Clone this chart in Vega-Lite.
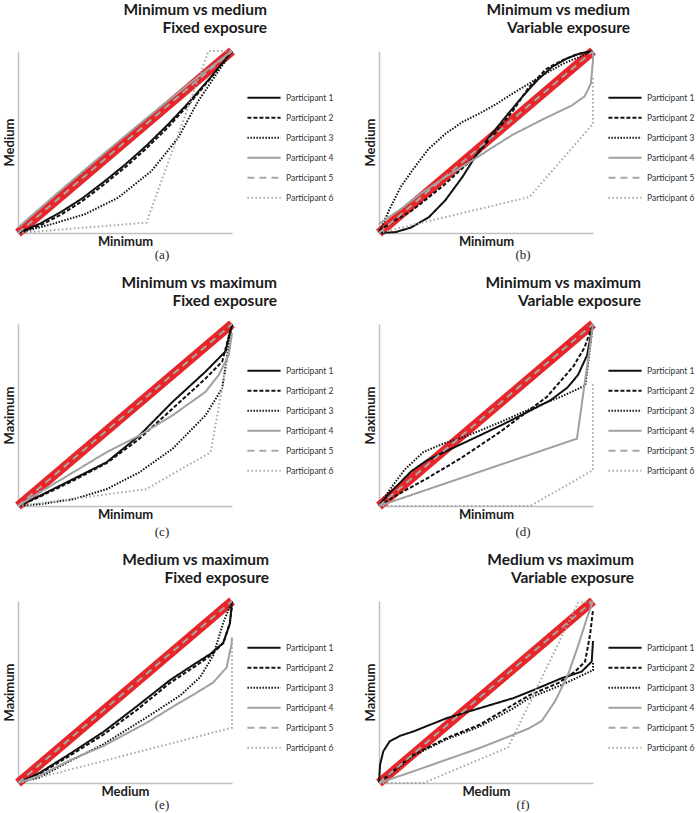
{
  "$schema": "https://vega.github.io/schema/vega-lite/v6.json",
  "padding": {"left": 0, "top": 2, "right": 0, "bottom": 0},
  "background": "white",
  "datasets": {
    "diag": [{"x": 0, "y": 0}, {"x": 1, "y": 1}],
    "a": [
      {"p": "Participant 1", "i": 0, "x": 0, "y": 0}, {"p": "Participant 1", "i": 1, "x": 0.1, "y": 0.05}, {"p": "Participant 1", "i": 2, "x": 0.2, "y": 0.115}, {"p": "Participant 1", "i": 3, "x": 0.3, "y": 0.19}, {"p": "Participant 1", "i": 4, "x": 0.4, "y": 0.28}, {"p": "Participant 1", "i": 5, "x": 0.5, "y": 0.375}, {"p": "Participant 1", "i": 6, "x": 0.6, "y": 0.48}, {"p": "Participant 1", "i": 7, "x": 0.7, "y": 0.595}, {"p": "Participant 1", "i": 8, "x": 0.8, "y": 0.72}, {"p": "Participant 1", "i": 9, "x": 0.9, "y": 0.855}, {"p": "Participant 1", "i": 10, "x": 1, "y": 1},
      {"p": "Participant 2", "i": 0, "x": 0, "y": 0}, {"p": "Participant 2", "i": 1, "x": 0.1, "y": 0.04}, {"p": "Participant 2", "i": 2, "x": 0.2, "y": 0.1}, {"p": "Participant 2", "i": 3, "x": 0.3, "y": 0.175}, {"p": "Participant 2", "i": 4, "x": 0.4, "y": 0.265}, {"p": "Participant 2", "i": 5, "x": 0.5, "y": 0.36}, {"p": "Participant 2", "i": 6, "x": 0.6, "y": 0.465}, {"p": "Participant 2", "i": 7, "x": 0.7, "y": 0.58}, {"p": "Participant 2", "i": 8, "x": 0.8, "y": 0.71}, {"p": "Participant 2", "i": 9, "x": 0.9, "y": 0.85}, {"p": "Participant 2", "i": 10, "x": 1, "y": 1},
      {"p": "Participant 3", "i": 0, "x": 0, "y": 0}, {"p": "Participant 3", "i": 1, "x": 0.156, "y": 0.048}, {"p": "Participant 3", "i": 2, "x": 0.312, "y": 0.103}, {"p": "Participant 3", "i": 3, "x": 0.468, "y": 0.194}, {"p": "Participant 3", "i": 4, "x": 0.624, "y": 0.341}, {"p": "Participant 3", "i": 5, "x": 0.749, "y": 0.524}, {"p": "Participant 3", "i": 6, "x": 0.842, "y": 0.725}, {"p": "Participant 3", "i": 7, "x": 0.92, "y": 0.86}, {"p": "Participant 3", "i": 8, "x": 1, "y": 1},
      {"p": "Participant 4", "i": 0, "x": 0, "y": 0.03}, {"p": "Participant 4", "i": 1, "x": 0.2, "y": 0.235}, {"p": "Participant 4", "i": 2, "x": 0.4, "y": 0.435}, {"p": "Participant 4", "i": 3, "x": 0.6, "y": 0.63}, {"p": "Participant 4", "i": 4, "x": 0.8, "y": 0.82}, {"p": "Participant 4", "i": 5, "x": 1, "y": 1},
      {"p": "Participant 5", "i": 0, "x": 0, "y": 0}, {"p": "Participant 5", "i": 1, "x": 1, "y": 1},
      {"p": "Participant 6", "i": 0, "x": 0, "y": 0}, {"p": "Participant 6", "i": 1, "x": 0.6, "y": 0.057}, {"p": "Participant 6", "i": 2, "x": 0.89, "y": 1}, {"p": "Participant 6", "i": 3, "x": 1, "y": 1}
    ],
    "b": [
      {"p": "Participant 1", "i": 0, "x": 0, "y": 0}, {"p": "Participant 1", "i": 1, "x": 0.078, "y": 0.005}, {"p": "Participant 1", "i": 2, "x": 0.15, "y": 0.03}, {"p": "Participant 1", "i": 3, "x": 0.234, "y": 0.088}, {"p": "Participant 1", "i": 4, "x": 0.31, "y": 0.18}, {"p": "Participant 1", "i": 5, "x": 0.39, "y": 0.308}, {"p": "Participant 1", "i": 6, "x": 0.45, "y": 0.42}, {"p": "Participant 1", "i": 7, "x": 0.516, "y": 0.528}, {"p": "Participant 1", "i": 8, "x": 0.6, "y": 0.65}, {"p": "Participant 1", "i": 9, "x": 0.67, "y": 0.749}, {"p": "Participant 1", "i": 10, "x": 0.74, "y": 0.84}, {"p": "Participant 1", "i": 11, "x": 0.81, "y": 0.914}, {"p": "Participant 1", "i": 12, "x": 0.88, "y": 0.96}, {"p": "Participant 1", "i": 13, "x": 0.94, "y": 0.987}, {"p": "Participant 1", "i": 14, "x": 1, "y": 1},
      {"p": "Participant 2", "i": 0, "x": 0, "y": 0.015}, {"p": "Participant 2", "i": 1, "x": 0.156, "y": 0.125}, {"p": "Participant 2", "i": 2, "x": 0.3, "y": 0.26}, {"p": "Participant 2", "i": 3, "x": 0.45, "y": 0.42}, {"p": "Participant 2", "i": 4, "x": 0.55, "y": 0.56}, {"p": "Participant 2", "i": 5, "x": 0.625, "y": 0.67}, {"p": "Participant 2", "i": 6, "x": 0.7, "y": 0.8}, {"p": "Participant 2", "i": 7, "x": 0.78, "y": 0.9}, {"p": "Participant 2", "i": 8, "x": 0.85, "y": 0.945}, {"p": "Participant 2", "i": 9, "x": 0.92, "y": 0.98}, {"p": "Participant 2", "i": 10, "x": 1, "y": 1},
      {"p": "Participant 3", "i": 0, "x": 0, "y": 0}, {"p": "Participant 3", "i": 1, "x": 0.047, "y": 0.125}, {"p": "Participant 3", "i": 2, "x": 0.1, "y": 0.25}, {"p": "Participant 3", "i": 3, "x": 0.156, "y": 0.345}, {"p": "Participant 3", "i": 4, "x": 0.23, "y": 0.46}, {"p": "Participant 3", "i": 5, "x": 0.3125, "y": 0.547}, {"p": "Participant 3", "i": 6, "x": 0.39, "y": 0.61}, {"p": "Participant 3", "i": 7, "x": 0.47, "y": 0.657}, {"p": "Participant 3", "i": 8, "x": 0.55, "y": 0.71}, {"p": "Participant 3", "i": 9, "x": 0.625, "y": 0.767}, {"p": "Participant 3", "i": 10, "x": 0.7, "y": 0.82}, {"p": "Participant 3", "i": 11, "x": 0.78, "y": 0.877}, {"p": "Participant 3", "i": 12, "x": 0.86, "y": 0.93}, {"p": "Participant 3", "i": 13, "x": 0.94, "y": 0.969}, {"p": "Participant 3", "i": 14, "x": 1, "y": 1},
      {"p": "Participant 4", "i": 0, "x": 0, "y": 0.05}, {"p": "Participant 4", "i": 1, "x": 0.1, "y": 0.13}, {"p": "Participant 4", "i": 2, "x": 0.2, "y": 0.22}, {"p": "Participant 4", "i": 3, "x": 0.3, "y": 0.3}, {"p": "Participant 4", "i": 4, "x": 0.4375, "y": 0.4}, {"p": "Participant 4", "i": 5, "x": 0.53, "y": 0.47}, {"p": "Participant 4", "i": 6, "x": 0.625, "y": 0.54}, {"p": "Participant 4", "i": 7, "x": 0.775, "y": 0.63}, {"p": "Participant 4", "i": 8, "x": 0.9, "y": 0.7}, {"p": "Participant 4", "i": 9, "x": 0.96, "y": 0.75}, {"p": "Participant 4", "i": 10, "x": 0.99, "y": 0.82}, {"p": "Participant 4", "i": 11, "x": 1, "y": 0.95}, {"p": "Participant 4", "i": 12, "x": 1, "y": 1},
      {"p": "Participant 5", "i": 0, "x": 0, "y": 0}, {"p": "Participant 5", "i": 1, "x": 1, "y": 1},
      {"p": "Participant 6", "i": 0, "x": 0, "y": 0}, {"p": "Participant 6", "i": 1, "x": 0.703, "y": 0.198}, {"p": "Participant 6", "i": 2, "x": 1, "y": 0.6}, {"p": "Participant 6", "i": 3, "x": 1, "y": 0.86}
    ],
    "c": [
      {"p": "Participant 1", "i": 0, "x": 0, "y": 0}, {"p": "Participant 1", "i": 1, "x": 0.1, "y": 0.055}, {"p": "Participant 1", "i": 2, "x": 0.258, "y": 0.148}, {"p": "Participant 1", "i": 3, "x": 0.413, "y": 0.24}, {"p": "Participant 1", "i": 4, "x": 0.567, "y": 0.387}, {"p": "Participant 1", "i": 5, "x": 0.722, "y": 0.572}, {"p": "Participant 1", "i": 6, "x": 0.876, "y": 0.738}, {"p": "Participant 1", "i": 7, "x": 0.97, "y": 0.85}, {"p": "Participant 1", "i": 8, "x": 1, "y": 1},
      {"p": "Participant 2", "i": 0, "x": 0, "y": 0}, {"p": "Participant 2", "i": 1, "x": 0.1, "y": 0.05}, {"p": "Participant 2", "i": 2, "x": 0.258, "y": 0.14}, {"p": "Participant 2", "i": 3, "x": 0.413, "y": 0.235}, {"p": "Participant 2", "i": 4, "x": 0.567, "y": 0.369}, {"p": "Participant 2", "i": 5, "x": 0.722, "y": 0.535}, {"p": "Participant 2", "i": 6, "x": 0.876, "y": 0.7}, {"p": "Participant 2", "i": 7, "x": 0.954, "y": 0.793}, {"p": "Participant 2", "i": 8, "x": 1, "y": 1},
      {"p": "Participant 3", "i": 0, "x": 0, "y": 0}, {"p": "Participant 3", "i": 1, "x": 0.1, "y": 0.01}, {"p": "Participant 3", "i": 2, "x": 0.258, "y": 0.037}, {"p": "Participant 3", "i": 3, "x": 0.413, "y": 0.092}, {"p": "Participant 3", "i": 4, "x": 0.567, "y": 0.185}, {"p": "Participant 3", "i": 5, "x": 0.722, "y": 0.314}, {"p": "Participant 3", "i": 6, "x": 0.876, "y": 0.498}, {"p": "Participant 3", "i": 7, "x": 0.954, "y": 0.646}, {"p": "Participant 3", "i": 8, "x": 1, "y": 1},
      {"p": "Participant 4", "i": 0, "x": 0, "y": 0}, {"p": "Participant 4", "i": 1, "x": 0.1, "y": 0.074}, {"p": "Participant 4", "i": 2, "x": 0.258, "y": 0.185}, {"p": "Participant 4", "i": 3, "x": 0.413, "y": 0.295}, {"p": "Participant 4", "i": 4, "x": 0.567, "y": 0.387}, {"p": "Participant 4", "i": 5, "x": 0.722, "y": 0.498}, {"p": "Participant 4", "i": 6, "x": 0.876, "y": 0.627}, {"p": "Participant 4", "i": 7, "x": 0.938, "y": 0.72}, {"p": "Participant 4", "i": 8, "x": 0.985, "y": 0.83}, {"p": "Participant 4", "i": 9, "x": 1, "y": 0.95},
      {"p": "Participant 5", "i": 0, "x": 0, "y": 0}, {"p": "Participant 5", "i": 1, "x": 1, "y": 1},
      {"p": "Participant 6", "i": 0, "x": 0, "y": 0}, {"p": "Participant 6", "i": 1, "x": 0.598, "y": 0.092}, {"p": "Participant 6", "i": 2, "x": 0.9, "y": 0.295}, {"p": "Participant 6", "i": 3, "x": 1, "y": 0.95}
    ],
    "d": [
      {"p": "Participant 1", "i": 0, "x": 0, "y": 0}, {"p": "Participant 1", "i": 1, "x": 0.04, "y": 0.06}, {"p": "Participant 1", "i": 2, "x": 0.1, "y": 0.13}, {"p": "Participant 1", "i": 3, "x": 0.15, "y": 0.19}, {"p": "Participant 1", "i": 4, "x": 0.223, "y": 0.25}, {"p": "Participant 1", "i": 5, "x": 0.348, "y": 0.32}, {"p": "Participant 1", "i": 6, "x": 0.457, "y": 0.38}, {"p": "Participant 1", "i": 7, "x": 0.582, "y": 0.45}, {"p": "Participant 1", "i": 8, "x": 0.7, "y": 0.52}, {"p": "Participant 1", "i": 9, "x": 0.8, "y": 0.58}, {"p": "Participant 1", "i": 10, "x": 0.88, "y": 0.65}, {"p": "Participant 1", "i": 11, "x": 0.93, "y": 0.72}, {"p": "Participant 1", "i": 12, "x": 0.972, "y": 0.827}, {"p": "Participant 1", "i": 13, "x": 1, "y": 1},
      {"p": "Participant 2", "i": 0, "x": 0, "y": 0}, {"p": "Participant 2", "i": 1, "x": 0.083, "y": 0.06}, {"p": "Participant 2", "i": 2, "x": 0.223, "y": 0.151}, {"p": "Participant 2", "i": 3, "x": 0.379, "y": 0.26}, {"p": "Participant 2", "i": 4, "x": 0.566, "y": 0.407}, {"p": "Participant 2", "i": 5, "x": 0.785, "y": 0.6}, {"p": "Participant 2", "i": 6, "x": 0.91, "y": 0.77}, {"p": "Participant 2", "i": 7, "x": 0.96, "y": 0.87}, {"p": "Participant 2", "i": 8, "x": 1, "y": 1},
      {"p": "Participant 3", "i": 0, "x": 0, "y": 0}, {"p": "Participant 3", "i": 1, "x": 0.05, "y": 0.09}, {"p": "Participant 3", "i": 2, "x": 0.12, "y": 0.2}, {"p": "Participant 3", "i": 3, "x": 0.208, "y": 0.297}, {"p": "Participant 3", "i": 4, "x": 0.301, "y": 0.343}, {"p": "Participant 3", "i": 5, "x": 0.4, "y": 0.38}, {"p": "Participant 3", "i": 6, "x": 0.566, "y": 0.46}, {"p": "Participant 3", "i": 7, "x": 0.7, "y": 0.53}, {"p": "Participant 3", "i": 8, "x": 0.85, "y": 0.6}, {"p": "Participant 3", "i": 9, "x": 0.964, "y": 0.662}, {"p": "Participant 3", "i": 10, "x": 1, "y": 1},
      {"p": "Participant 4", "i": 0, "x": 0, "y": 0}, {"p": "Participant 4", "i": 1, "x": 0.925, "y": 0.37}, {"p": "Participant 4", "i": 2, "x": 1, "y": 1},
      {"p": "Participant 5", "i": 0, "x": 0, "y": 0}, {"p": "Participant 5", "i": 1, "x": 1, "y": 1},
      {"p": "Participant 6", "i": 0, "x": 0, "y": 0}, {"p": "Participant 6", "i": 1, "x": 0.707, "y": 0}, {"p": "Participant 6", "i": 2, "x": 1, "y": 0.197}, {"p": "Participant 6", "i": 3, "x": 1, "y": 0.68}
    ],
    "e": [
      {"p": "Participant 1", "i": 0, "x": 0, "y": 0}, {"p": "Participant 1", "i": 1, "x": 0.1, "y": 0.055}, {"p": "Participant 1", "i": 2, "x": 0.242, "y": 0.16}, {"p": "Participant 1", "i": 3, "x": 0.398, "y": 0.28}, {"p": "Participant 1", "i": 4, "x": 0.554, "y": 0.42}, {"p": "Participant 1", "i": 5, "x": 0.71, "y": 0.565}, {"p": "Participant 1", "i": 6, "x": 0.82, "y": 0.65}, {"p": "Participant 1", "i": 7, "x": 0.9, "y": 0.71}, {"p": "Participant 1", "i": 8, "x": 0.959, "y": 0.77}, {"p": "Participant 1", "i": 9, "x": 0.99, "y": 0.875}, {"p": "Participant 1", "i": 10, "x": 1, "y": 1},
      {"p": "Participant 2", "i": 0, "x": 0, "y": 0}, {"p": "Participant 2", "i": 1, "x": 0.1, "y": 0.05}, {"p": "Participant 2", "i": 2, "x": 0.242, "y": 0.15}, {"p": "Participant 2", "i": 3, "x": 0.398, "y": 0.265}, {"p": "Participant 2", "i": 4, "x": 0.554, "y": 0.4}, {"p": "Participant 2", "i": 5, "x": 0.71, "y": 0.55}, {"p": "Participant 2", "i": 6, "x": 0.82, "y": 0.635}, {"p": "Participant 2", "i": 7, "x": 0.9, "y": 0.7}, {"p": "Participant 2", "i": 8, "x": 0.96, "y": 0.77}, {"p": "Participant 2", "i": 9, "x": 0.99, "y": 0.88}, {"p": "Participant 2", "i": 10, "x": 1, "y": 0.97},
      {"p": "Participant 3", "i": 0, "x": 0, "y": 0}, {"p": "Participant 3", "i": 1, "x": 0.1, "y": 0.03}, {"p": "Participant 3", "i": 2, "x": 0.242, "y": 0.12}, {"p": "Participant 3", "i": 3, "x": 0.398, "y": 0.212}, {"p": "Participant 3", "i": 4, "x": 0.6, "y": 0.36}, {"p": "Participant 3", "i": 5, "x": 0.757, "y": 0.48}, {"p": "Participant 3", "i": 6, "x": 0.85, "y": 0.58}, {"p": "Participant 3", "i": 7, "x": 0.912, "y": 0.7}, {"p": "Participant 3", "i": 8, "x": 0.959, "y": 0.88}, {"p": "Participant 3", "i": 9, "x": 1, "y": 1},
      {"p": "Participant 4", "i": 0, "x": 0, "y": 0}, {"p": "Participant 4", "i": 1, "x": 0.1, "y": 0.04}, {"p": "Participant 4", "i": 2, "x": 0.242, "y": 0.125}, {"p": "Participant 4", "i": 3, "x": 0.398, "y": 0.203}, {"p": "Participant 4", "i": 4, "x": 0.6, "y": 0.33}, {"p": "Participant 4", "i": 5, "x": 0.725, "y": 0.42}, {"p": "Participant 4", "i": 6, "x": 0.819, "y": 0.485}, {"p": "Participant 4", "i": 7, "x": 0.912, "y": 0.552}, {"p": "Participant 4", "i": 8, "x": 0.975, "y": 0.635}, {"p": "Participant 4", "i": 9, "x": 0.998, "y": 0.764}, {"p": "Participant 4", "i": 10, "x": 1, "y": 0.8},
      {"p": "Participant 5", "i": 0, "x": 0, "y": 0}, {"p": "Participant 5", "i": 1, "x": 1, "y": 1},
      {"p": "Participant 6", "i": 0, "x": 0, "y": 0}, {"p": "Participant 6", "i": 1, "x": 1, "y": 0.304}, {"p": "Participant 6", "i": 2, "x": 1, "y": 0.78}
    ],
    "f": [
      {"p": "Participant 1", "i": 0, "x": 0, "y": 0}, {"p": "Participant 1", "i": 1, "x": 0.005, "y": 0.1}, {"p": "Participant 1", "i": 2, "x": 0.02, "y": 0.174}, {"p": "Participant 1", "i": 3, "x": 0.05, "y": 0.229}, {"p": "Participant 1", "i": 4, "x": 0.1, "y": 0.26}, {"p": "Participant 1", "i": 5, "x": 0.16, "y": 0.283}, {"p": "Participant 1", "i": 6, "x": 0.316, "y": 0.356}, {"p": "Participant 1", "i": 7, "x": 0.47, "y": 0.411}, {"p": "Participant 1", "i": 8, "x": 0.627, "y": 0.466}, {"p": "Participant 1", "i": 9, "x": 0.7, "y": 0.5}, {"p": "Participant 1", "i": 10, "x": 0.854, "y": 0.576}, {"p": "Participant 1", "i": 11, "x": 0.947, "y": 0.612}, {"p": "Participant 1", "i": 12, "x": 0.994, "y": 0.667}, {"p": "Participant 1", "i": 13, "x": 1, "y": 0.78},
      {"p": "Participant 2", "i": 0, "x": 0, "y": 0}, {"p": "Participant 2", "i": 1, "x": 0.05, "y": 0.05}, {"p": "Participant 2", "i": 2, "x": 0.16, "y": 0.155}, {"p": "Participant 2", "i": 3, "x": 0.316, "y": 0.247}, {"p": "Participant 2", "i": 4, "x": 0.47, "y": 0.32}, {"p": "Participant 2", "i": 5, "x": 0.627, "y": 0.43}, {"p": "Participant 2", "i": 6, "x": 0.699, "y": 0.48}, {"p": "Participant 2", "i": 7, "x": 0.839, "y": 0.55}, {"p": "Participant 2", "i": 8, "x": 0.916, "y": 0.612}, {"p": "Participant 2", "i": 9, "x": 0.963, "y": 0.667}, {"p": "Participant 2", "i": 10, "x": 0.986, "y": 0.813}, {"p": "Participant 2", "i": 11, "x": 1, "y": 0.95},
      {"p": "Participant 3", "i": 0, "x": 0, "y": 0}, {"p": "Participant 3", "i": 1, "x": 0.05, "y": 0.045}, {"p": "Participant 3", "i": 2, "x": 0.16, "y": 0.15}, {"p": "Participant 3", "i": 3, "x": 0.316, "y": 0.24}, {"p": "Participant 3", "i": 4, "x": 0.47, "y": 0.31}, {"p": "Participant 3", "i": 5, "x": 0.627, "y": 0.41}, {"p": "Participant 3", "i": 6, "x": 0.699, "y": 0.465}, {"p": "Participant 3", "i": 7, "x": 0.854, "y": 0.539}, {"p": "Participant 3", "i": 8, "x": 1, "y": 0.62}, {"p": "Participant 3", "i": 9, "x": 1, "y": 0.66},
      {"p": "Participant 4", "i": 0, "x": 0, "y": 0}, {"p": "Participant 4", "i": 1, "x": 0.16, "y": 0.064}, {"p": "Participant 4", "i": 2, "x": 0.47, "y": 0.192}, {"p": "Participant 4", "i": 3, "x": 0.627, "y": 0.265}, {"p": "Participant 4", "i": 4, "x": 0.7, "y": 0.3}, {"p": "Participant 4", "i": 5, "x": 0.76, "y": 0.34}, {"p": "Participant 4", "i": 6, "x": 0.823, "y": 0.45}, {"p": "Participant 4", "i": 7, "x": 0.885, "y": 0.6}, {"p": "Participant 4", "i": 8, "x": 0.932, "y": 0.76}, {"p": "Participant 4", "i": 9, "x": 0.97, "y": 0.9}, {"p": "Participant 4", "i": 10, "x": 1, "y": 1},
      {"p": "Participant 5", "i": 0, "x": 0, "y": 0}, {"p": "Participant 5", "i": 1, "x": 1, "y": 1},
      {"p": "Participant 6", "i": 0, "x": 0, "y": 0}, {"p": "Participant 6", "i": 1, "x": 0.207, "y": 0}, {"p": "Participant 6", "i": 2, "x": 0.603, "y": 0.195}, {"p": "Participant 6", "i": 3, "x": 0.93, "y": 0.99}, {"p": "Participant 6", "i": 4, "x": 1, "y": 1}
    ]
  },
  "resolve": {"scale": {"color": "independent", "strokeDash": "independent"}, "legend": {"color": "independent", "strokeDash": "independent"}},
  "spacing": 13,
  "vconcat": [
    {"spacing": 27, "resolve": {"scale": {"color": "independent", "strokeDash": "independent"}, "legend": {"color": "independent", "strokeDash": "independent"}}, "hconcat": [
      {"title": {"text": "(a)", "orient": "bottom", "anchor": "middle", "frame": "bounds", "align": "center", "font": "Liberation Serif", "fontSize": 13, "fontWeight": "normal", "color": "#222222", "dx": -5, "offset": -2}, "vconcat": [{"width": 214, "height": 182, "title": {"text": ["Minimum vs medium", "Fixed exposure"], "dx": 35},
        "layer": [
          {"data": {"name": "diag"}, "mark": {"type": "line", "color": "#e8262a", "strokeWidth": 9}, "encoding": {"x": {"field": "x", "type": "quantitative", "scale": {"domain": [0, 1]}, "axis": {"title": "Minimum"}}, "y": {"field": "y", "type": "quantitative", "scale": {"domain": [0, 1]}, "axis": {"title": "Medium"}}}},
          {"data": {"name": "a"}, "mark": {"type": "line", "strokeWidth": 2}, "encoding": {"x": {"field": "x", "type": "quantitative"}, "y": {"field": "y", "type": "quantitative"}, "order": {"field": "i"}, "color": {"field": "p", "type": "nominal", "legend": {"title": null}, "scale": {"domain": ["Participant 1", "Participant 2", "Participant 3", "Participant 4", "Participant 5", "Participant 6"], "range": ["#111111", "#111111", "#111111", "#a0a0a0", "#a6a6a6", "#a6a6a6"]}}, "strokeDash": {"field": "p", "type": "nominal", "legend": {"title": null}, "scale": {"domain": ["Participant 1", "Participant 2", "Participant 3", "Participant 4", "Participant 5", "Participant 6"], "range": [[1, 0], [4, 2], [1.5, 1.5], [1, 0], [7, 5], [1.5, 2.5]]}}}}
        ]}]},
      {"title": {"text": "(b)", "orient": "bottom", "anchor": "middle", "frame": "bounds", "align": "center", "font": "Liberation Serif", "fontSize": 13, "fontWeight": "normal", "color": "#222222", "dx": -5, "offset": -2}, "vconcat": [{"width": 214, "height": 182, "title": {"text": ["Minimum vs medium", "Variable exposure"], "dx": 37},
        "layer": [
          {"data": {"name": "diag"}, "mark": {"type": "line", "color": "#e8262a", "strokeWidth": 9}, "encoding": {"x": {"field": "x", "type": "quantitative", "scale": {"domain": [0, 1]}, "axis": {"title": "Minimum"}}, "y": {"field": "y", "type": "quantitative", "scale": {"domain": [0, 1]}, "axis": {"title": "Medium"}}}},
          {"data": {"name": "b"}, "mark": {"type": "line", "strokeWidth": 2}, "encoding": {"x": {"field": "x", "type": "quantitative"}, "y": {"field": "y", "type": "quantitative"}, "order": {"field": "i"}, "color": {"field": "p", "type": "nominal", "legend": {"title": null}, "scale": {"domain": ["Participant 1", "Participant 2", "Participant 3", "Participant 4", "Participant 5", "Participant 6"], "range": ["#111111", "#111111", "#111111", "#a0a0a0", "#a6a6a6", "#a6a6a6"]}}, "strokeDash": {"field": "p", "type": "nominal", "legend": {"title": null}, "scale": {"domain": ["Participant 1", "Participant 2", "Participant 3", "Participant 4", "Participant 5", "Participant 6"], "range": [[1, 0], [4, 2], [1.5, 1.5], [1, 0], [7, 5], [1.5, 2.5]]}}}}
        ]}]}
    ]},
    {"spacing": 27, "resolve": {"scale": {"color": "independent", "strokeDash": "independent"}, "legend": {"color": "independent", "strokeDash": "independent"}}, "hconcat": [
      {"title": {"text": "(c)", "orient": "bottom", "anchor": "middle", "frame": "bounds", "align": "center", "font": "Liberation Serif", "fontSize": 13, "fontWeight": "normal", "color": "#222222", "dx": -5, "offset": 2}, "vconcat": [{"width": 214, "height": 182, "title": {"text": ["Minimum vs maximum", "Fixed exposure"], "dx": 45},
        "layer": [
          {"data": {"name": "diag"}, "mark": {"type": "line", "color": "#e8262a", "strokeWidth": 9}, "encoding": {"x": {"field": "x", "type": "quantitative", "scale": {"domain": [0, 1]}, "axis": {"title": "Minimum"}}, "y": {"field": "y", "type": "quantitative", "scale": {"domain": [0, 1]}, "axis": {"title": "Maximum"}}}},
          {"data": {"name": "c"}, "mark": {"type": "line", "strokeWidth": 2}, "encoding": {"x": {"field": "x", "type": "quantitative"}, "y": {"field": "y", "type": "quantitative"}, "order": {"field": "i"}, "color": {"field": "p", "type": "nominal", "legend": {"title": null}, "scale": {"domain": ["Participant 1", "Participant 2", "Participant 3", "Participant 4", "Participant 5", "Participant 6"], "range": ["#111111", "#111111", "#111111", "#a0a0a0", "#a6a6a6", "#a6a6a6"]}}, "strokeDash": {"field": "p", "type": "nominal", "legend": {"title": null}, "scale": {"domain": ["Participant 1", "Participant 2", "Participant 3", "Participant 4", "Participant 5", "Participant 6"], "range": [[1, 0], [4, 2], [1.5, 1.5], [1, 0], [7, 5], [1.5, 2.5]]}}}}
        ]}]},
      {"title": {"text": "(d)", "orient": "bottom", "anchor": "middle", "frame": "bounds", "align": "center", "font": "Liberation Serif", "fontSize": 13, "fontWeight": "normal", "color": "#222222", "dx": -5, "offset": 2}, "vconcat": [{"width": 214, "height": 182, "title": {"text": ["Minimum vs maximum", "Variable exposure"], "dx": 48},
        "layer": [
          {"data": {"name": "diag"}, "mark": {"type": "line", "color": "#e8262a", "strokeWidth": 9}, "encoding": {"x": {"field": "x", "type": "quantitative", "scale": {"domain": [0, 1]}, "axis": {"title": "Minimum"}}, "y": {"field": "y", "type": "quantitative", "scale": {"domain": [0, 1]}, "axis": {"title": "Maximum"}}}},
          {"data": {"name": "d"}, "mark": {"type": "line", "strokeWidth": 2}, "encoding": {"x": {"field": "x", "type": "quantitative"}, "y": {"field": "y", "type": "quantitative"}, "order": {"field": "i"}, "color": {"field": "p", "type": "nominal", "legend": {"title": null}, "scale": {"domain": ["Participant 1", "Participant 2", "Participant 3", "Participant 4", "Participant 5", "Participant 6"], "range": ["#111111", "#111111", "#111111", "#a0a0a0", "#a6a6a6", "#a6a6a6"]}}, "strokeDash": {"field": "p", "type": "nominal", "legend": {"title": null}, "scale": {"domain": ["Participant 1", "Participant 2", "Participant 3", "Participant 4", "Participant 5", "Participant 6"], "range": [[1, 0], [4, 2], [1.5, 1.5], [1, 0], [7, 5], [1.5, 2.5]]}}}}
        ]}]}
    ]},
    {"spacing": 27, "resolve": {"scale": {"color": "independent", "strokeDash": "independent"}, "legend": {"color": "independent", "strokeDash": "independent"}}, "hconcat": [
      {"title": {"text": "(e)", "orient": "bottom", "anchor": "middle", "frame": "bounds", "align": "center", "font": "Liberation Serif", "fontSize": 13, "fontWeight": "normal", "color": "#222222", "dx": -5, "offset": -2}, "vconcat": [{"width": 214, "height": 182, "title": {"text": ["Medium vs maximum", "Fixed exposure"], "dx": 37},
        "layer": [
          {"data": {"name": "diag"}, "mark": {"type": "line", "color": "#e8262a", "strokeWidth": 9}, "encoding": {"x": {"field": "x", "type": "quantitative", "scale": {"domain": [0, 1]}, "axis": {"title": "Medium"}}, "y": {"field": "y", "type": "quantitative", "scale": {"domain": [0, 1]}, "axis": {"title": "Maximum"}}}},
          {"data": {"name": "e"}, "mark": {"type": "line", "strokeWidth": 2}, "encoding": {"x": {"field": "x", "type": "quantitative"}, "y": {"field": "y", "type": "quantitative"}, "order": {"field": "i"}, "color": {"field": "p", "type": "nominal", "legend": {"title": null}, "scale": {"domain": ["Participant 1", "Participant 2", "Participant 3", "Participant 4", "Participant 5", "Participant 6"], "range": ["#111111", "#111111", "#111111", "#a0a0a0", "#a6a6a6", "#a6a6a6"]}}, "strokeDash": {"field": "p", "type": "nominal", "legend": {"title": null}, "scale": {"domain": ["Participant 1", "Participant 2", "Participant 3", "Participant 4", "Participant 5", "Participant 6"], "range": [[1, 0], [4, 2], [1.5, 1.5], [1, 0], [7, 5], [1.5, 2.5]]}}}}
        ]}]},
      {"title": {"text": "(f)", "orient": "bottom", "anchor": "middle", "frame": "bounds", "align": "center", "font": "Liberation Serif", "fontSize": 13, "fontWeight": "normal", "color": "#222222", "dx": -5, "offset": -2}, "vconcat": [{"width": 214, "height": 182, "title": {"text": ["Medium vs maximum", "Variable exposure"], "dx": 41},
        "layer": [
          {"data": {"name": "diag"}, "mark": {"type": "line", "color": "#e8262a", "strokeWidth": 9}, "encoding": {"x": {"field": "x", "type": "quantitative", "scale": {"domain": [0, 1]}, "axis": {"title": "Medium"}}, "y": {"field": "y", "type": "quantitative", "scale": {"domain": [0, 1]}, "axis": {"title": "Maximum"}}}},
          {"data": {"name": "f"}, "mark": {"type": "line", "strokeWidth": 2}, "encoding": {"x": {"field": "x", "type": "quantitative"}, "y": {"field": "y", "type": "quantitative"}, "order": {"field": "i"}, "color": {"field": "p", "type": "nominal", "legend": {"title": null}, "scale": {"domain": ["Participant 1", "Participant 2", "Participant 3", "Participant 4", "Participant 5", "Participant 6"], "range": ["#111111", "#111111", "#111111", "#a0a0a0", "#a6a6a6", "#a6a6a6"]}}, "strokeDash": {"field": "p", "type": "nominal", "legend": {"title": null}, "scale": {"domain": ["Participant 1", "Participant 2", "Participant 3", "Participant 4", "Participant 5", "Participant 6"], "range": [[1, 0], [4, 2], [1.5, 1.5], [1, 0], [7, 5], [1.5, 2.5]]}}}}
        ]}]}
    ]}
  ],
  "config": {
    "view": {"stroke": null},
    "axis": {"grid": false, "ticks": false, "labels": false, "domainColor": "#c0c0c0", "domainWidth": 1.5, "titleFont": "Lato", "titleFontSize": 13, "titleFontWeight": "bold", "titleColor": "#1a1a1a", "titlePadding": 2},
    "title": {"font": "Lato", "fontSize": 15.5, "fontWeight": "bold", "color": "#1a1a1a", "anchor": "end", "frame": "group", "align": "right", "lineHeight": 18, "offset": -3},
    "legend": {"orient": "none", "legendX": 228, "legendY": 38, "symbolType": "stroke", "symbolSize": 1100, "symbolStrokeWidth": 2, "labelFont": "Lato", "labelFontSize": 8.5, "labelColor": "#333333", "labelOffset": 4, "clipHeight": 17.5, "rowPadding": 2}
  }
}
